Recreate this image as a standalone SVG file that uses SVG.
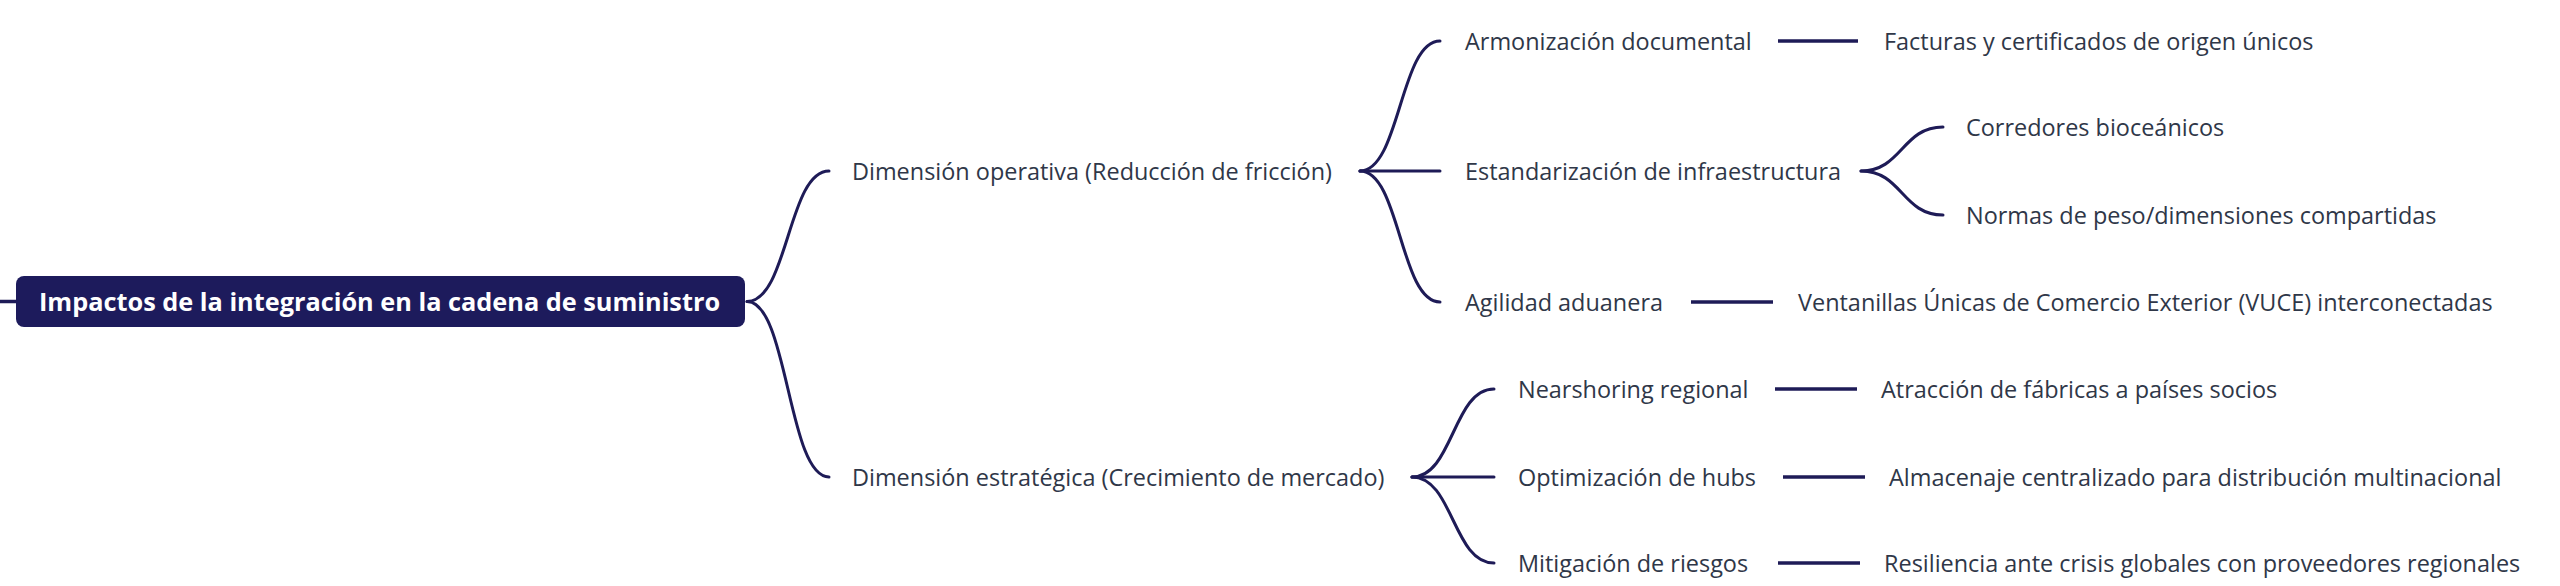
<svg xmlns="http://www.w3.org/2000/svg" width="2560" height="586" viewBox="0 0 2560 586">
<style>
.t{font-family:"Open Sans","Noto Sans","Liberation Sans",sans-serif;font-size:23.45px;fill:#2f3748}
.r{font-family:"Open Sans","Noto Sans","Liberation Sans",sans-serif;font-size:25.3px;font-weight:bold;fill:#ffffff}
.c{fill:none;stroke:#1e1b57;stroke-width:3;stroke-linecap:round}
.s{fill:none;stroke:#1e1b57;stroke-width:3.5}
</style>
<rect width="2560" height="586" fill="#ffffff"/>
<g id="connectors">
<path class="s" d="M0 301.5H16"/>
<path class="c" d="M747 301.5C788 301.5 788 171 829 171"/>
<path class="c" d="M747 301.5C788 301.5 788 477 829 477"/>
<path class="c" d="M1360 171C1400 171 1400 41 1440 41"/>
<path class="c" d="M1360 171H1440"/>
<path class="c" d="M1360 171C1400 171 1400 302 1440 302"/>
<path class="s" d="M1778 41H1858"/>
<path class="c" d="M1861 171C1902 171 1902 127 1943 127"/>
<path class="c" d="M1861 171C1902 171 1902 215 1943 215"/>
<path class="s" d="M1691 302H1773"/>
<path class="c" d="M1412 477C1453 477 1453 389 1494 389"/>
<path class="c" d="M1412 477H1494"/>
<path class="c" d="M1412 477C1453 477 1453 563 1494 563"/>
<path class="s" d="M1775 389H1857"/>
<path class="s" d="M1783 477H1865"/>
<path class="s" d="M1778 563H1860"/>
</g>
<g id="root"><rect x="16" y="276" width="729" height="51" rx="8" fill="#1d1b5c"/><text class="r" x="39" y="310.5">Impactos de la integración en la cadena de suministro</text></g>
<g id="n-operativa"><text class="t" x="852" y="179.5">Dimensión operativa (Reducción de fricción)</text></g>
<g id="n-estrategica"><text class="t" x="852" y="485.5">Dimensión estratégica (Crecimiento de mercado)</text></g>
<g id="n-armonizacion"><text class="t" x="1465" y="49.5">Armonización documental</text></g>
<g id="n-facturas"><text class="t" x="1884" y="49.5">Facturas y certificados de origen únicos</text></g>
<g id="n-estandarizacion"><text class="t" x="1465" y="179.5">Estandarización de infraestructura</text></g>
<g id="n-corredores"><text class="t" x="1966" y="135.5">Corredores bioceánicos</text></g>
<g id="n-normas"><text class="t" x="1966" y="223.5">Normas de peso/dimensiones compartidas</text></g>
<g id="n-agilidad"><text class="t" x="1465" y="310.5">Agilidad aduanera</text></g>
<g id="n-ventanillas"><text class="t" x="1798" y="310.5">Ventanillas Únicas de Comercio Exterior (VUCE) interconectadas</text></g>
<g id="n-nearshoring"><text class="t" x="1518" y="397.5">Nearshoring regional</text></g>
<g id="n-atraccion"><text class="t" x="1881" y="397.5">Atracción de fábricas a países socios</text></g>
<g id="n-optimizacion"><text class="t" x="1518" y="485.5">Optimización de hubs</text></g>
<g id="n-almacenaje"><text class="t" x="1889" y="485.5">Almacenaje centralizado para distribución multinacional</text></g>
<g id="n-mitigacion"><text class="t" x="1518" y="571.5">Mitigación de riesgos</text></g>
<g id="n-resiliencia"><text class="t" x="1884" y="571.5">Resiliencia ante crisis globales con proveedores regionales</text></g>
</svg>
